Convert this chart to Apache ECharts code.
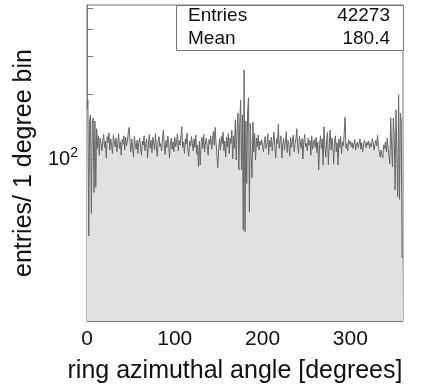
<!DOCTYPE html>
<html>
<head>
<meta charset="utf-8">
<script src="https://cdn.jsdelivr.net/npm/echarts@6/dist/echarts.min.js"></script>
<style>
  html, body { margin: 0; padding: 0; background: #fff; }
  #chart { width: 424px; height: 389px; }
</style>
</head>
<body>
<div id="chart"></div>
<script>
// entries per 1 degree bin, bins 0..359
const counts = [
  170, 187, 44, 152, 160, 56, 148, 155, 70, 150, 74, 138, 112, 128, 104, 125, 118, 109, 122, 130,
  113, 121, 101, 127, 119, 132, 110, 124, 116, 106, 129, 121, 114, 125, 108, 118, 131, 112, 120, 104,
  123, 117, 128, 110, 126, 115, 121, 133, 140, 119, 108, 124, 113, 102, 127, 118, 111, 122, 106, 119,
  125, 113, 104, 121, 116, 128, 109, 118, 124, 101, 117, 130, 112, 122, 107, 126, 119, 110, 131, 115,
  103, 121, 127, 114, 118, 109, 124, 136, 116, 105, 122, 113, 128, 119, 101, 117, 125, 111, 120, 108,
  126, 114, 119, 131, 109, 122, 116, 128, 141, 113, 120, 106, 124, 117, 132, 110, 103, 121, 115, 127,
  118, 109, 124, 113, 129, 105, 116, 92, 121, 94, 118, 126, 112, 130, 108, 120, 125, 114, 104, 123,
  117, 128, 111, 122, 134, 116, 140, 119, 105, 91, 112, 124, 110, 127, 118, 133, 109, 121, 102, 126,
  114, 131, 106, 125, 118, 136, 100, 128, 112, 152, 99, 138, 163, 89, 145, 187, 89, 160, 47, 258,
  46, 150, 77, 165, 192, 57, 146, 104, 82, 148, 108, 131, 99, 125, 114, 129, 110, 121, 116, 123,
  123, 108, 119, 127, 112, 117, 131, 105, 122, 114, 126, 109, 120, 133, 115, 101, 124, 118, 145, 112,
  121, 128, 101, 116, 125, 110, 119, 134, 107, 122, 117, 103, 126, 113, 120, 129, 108, 118, 124, 138,
  115, 106, 127, 119, 112, 124, 100, 121, 130, 114, 118, 109, 125, 116, 122, 104, 128, 111, 119, 123,
  113, 126, 107, 120, 89, 117, 128, 112, 124, 94, 141, 115, 102, 122, 133, 94, 118, 136, 110, 125,
  116, 95, 121, 128, 108, 119, 94, 124, 113, 127, 106, 120, 115, 131, 156, 112, 118, 109, 123, 117,
  121, 114, 119, 112, 117, 123, 110, 116, 120, 113, 118, 124, 111, 119, 108, 115, 122, 117, 113, 120,
  116, 121, 112, 118, 114, 124, 119, 110, 117, 122, 115, 129, 113, 108, 102, 110, 104, 101, 116, 112,
  120, 108, 125, 113, 104, 95, 155, 117, 92, 155, 126, 72, 169, 110, 67, 198, 65, 163, 150, 35
]
const xLabelTicks = [0, 100, 200, 300]
const xMinorTicks = [20, 40, 60, 80, 120, 140, 160, 180, 220, 240, 260, 280, 320, 340]
const yMajorTicks = [100]
const yMinorTicks = [20, 30, 40, 50, 60, 70, 80, 90, 200, 300, 400, 500]
const statNames = ['Entries', 'Mean']
const statValues = ['42273', '180.4']

// histogram outline: left edge of every bin, plus the closing right edge
const histPoints = counts.map((v, i) => [i, v])
histPoints.push([counts.length, counts[counts.length - 1]])

const font = 'Liberation Sans, Arial, Helvetica, sans-serif'
const frameColor = '#777'

const myChart = echarts.init(document.getElementById('chart'))

const statText = []
statNames.forEach((name, i) => {
  statText.push({
    type: 'text', left: 188, top: 6 + i * 23, z: 101,
    style: { text: name, font: '19px ' + font, fill: '#111' }
  })
  statText.push({
    type: 'text', right: 34, top: 6 + i * 23, z: 101,
    style: { text: statValues[i], font: '19px ' + font, fill: '#111', textAlign: 'right' }
  })
})

myChart.setOption({
  animation: false,
  backgroundColor: '#fff',
  grid: {
    left: 87, right: 21, top: 5, bottom: 68,
    show: true, borderColor: frameColor, borderWidth: 1, backgroundColor: '#fff'
  },
  xAxis: [{
    type: 'value', min: 0, max: 360,
    name: 'ring azimuthal angle [degrees]',
    nameLocation: 'middle', nameGap: 38,
    nameTextStyle: { fontFamily: font, fontSize: 25, color: '#111', padding: [0, 20, 0, 0] },
    axisLine: { show: true, onZero: false, lineStyle: { color: frameColor } },
    axisTick: { show: true, inside: true, length: 10, customValues: xLabelTicks, lineStyle: { color: frameColor } },
    axisLabel: { customValues: xLabelTicks, fontFamily: font, fontSize: 21, color: '#111', margin: 8 },
    splitLine: { show: false }
  }, {
    type: 'value', min: 0, max: 360, position: 'bottom',
    axisLine: { show: false },
    axisTick: { show: true, inside: true, length: 5, customValues: xMinorTicks, lineStyle: { color: frameColor } },
    axisLabel: { show: false },
    splitLine: { show: false }
  }],
  yAxis: [{
    type: 'log', min: 17.8, max: 516,
    name: 'entries/ 1 degree bin',
    nameLocation: 'middle', nameGap: 48,
    nameTextStyle: { fontFamily: font, fontSize: 25, color: '#111' },
    axisLine: { show: true, lineStyle: { color: frameColor } },
    axisTick: { show: true, inside: true, length: 11, customValues: yMajorTicks, lineStyle: { color: frameColor } },
    axisLabel: {
      customValues: yMajorTicks, margin: 9,
      formatter: v => '{b|10}{s|' + Math.round(Math.log10(v)) + '}',
      rich: {
        b: { fontFamily: font, fontSize: 20, color: '#111', lineHeight: 26 },
        s: { fontFamily: font, fontSize: 14, color: '#111', verticalAlign: 'top', lineHeight: 16 }
      }
    },
    splitLine: { show: false }
  }, {
    type: 'log', min: 17.8, max: 516, position: 'left',
    axisLine: { show: false },
    axisTick: { show: true, inside: true, length: 6, customValues: yMinorTicks, lineStyle: { color: frameColor } },
    axisLabel: { show: false },
    splitLine: { show: false }
  }],
  graphic: [{
    type: 'rect', left: 176, top: 5, z: 100,
    shape: { width: 227, height: 45 },
    style: { fill: '#fff', stroke: frameColor, lineWidth: 1 }
  }].concat(statText),
  series: [{
    type: 'line',
    data: histPoints,
    step: 'end',
    symbol: 'none',
    clip: true,
    lineStyle: { color: '#666', width: 1 },
    areaStyle: { color: '#e1e1e1', opacity: 1, origin: 'start' }
  }]
})
</script>
</body>
</html>
